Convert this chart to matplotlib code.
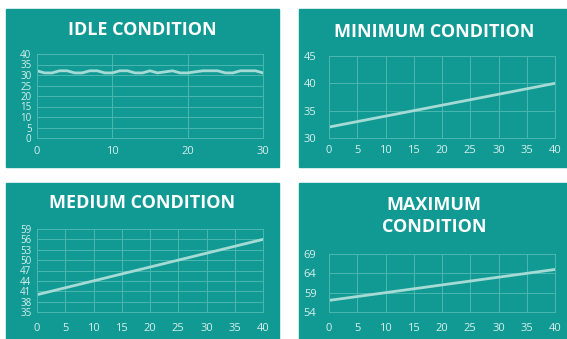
import matplotlib
matplotlib.use("Agg")
import matplotlib.pyplot as plt
from matplotlib.patches import Rectangle

# data
idle_x = list(range(0, 31))
idle_y = [32, 31, 31, 32, 32, 31, 31, 32, 32, 31, 31, 32, 32, 31, 31, 32,
          31, 31.5, 32, 31, 31, 31.5, 32, 32, 32, 31, 31, 32, 32, 32, 31]
min_x = [0, 40]
min_y = [32, 40]
med_x = [0, 40]
med_y = [40, 56]
max_x = [0, 40]
max_y = [57, 65]

idle_yticks = [0, 5, 10, 15, 20, 25, 30, 35, 40]
idle_xticks = [0, 10, 20, 30]
min_yticks = [30, 35, 40, 45]
med_yticks = [35, 38, 41, 44, 47, 50, 53, 56, 59]
max_yticks = [54, 59, 64, 69]
x40_ticks = [0, 5, 10, 15, 20, 25, 30, 35, 40]

TEAL = "#119a94"
GRID = "#4cb6b0"
LINE = "#a6dad4"
TXT = "#d6efec"

W, H = 567, 339
fig = plt.figure(figsize=(W / 100, H / 100), dpi=100)
fig.patch.set_facecolor("white")


def fx(px):
    return px / W


def fy(py):
    return 1 - py / H


def panel(x0, y0, x1, y1):
    fig.patches.append(Rectangle((fx(x0), fy(y1)), fx(x1) - fx(x0), (y1 - y0) / H,
                                 transform=fig.transFigure, color=TEAL, zorder=-10))


def axes(x0, y0, x1, y1):
    ax = fig.add_axes([fx(x0), fy(y1), fx(x1) - fx(x0), (y1 - y0) / H])
    ax.set_zorder(1)
    ax.set_facecolor(TEAL)
    for s in ax.spines.values():
        s.set_color(GRID)
        s.set_linewidth(0.7)
    ax.tick_params(length=0, colors=TXT, labelsize=8, pad=5)
    ax.grid(True, color=GRID, linewidth=0.7)
    ax.set_axisbelow(True)
    return ax


title_kw = dict(color="white", fontsize=13, fontweight="bold", family="Open Sans",
                ha="center", va="center")
tick_font = "Open Sans"

panel(6, 9, 279, 167)
panel(299, 9, 567, 167)
panel(6, 183, 279, 339)
panel(299, 183, 567, 339)

fig.text(fx(142.5), fy(30), "IDLE CONDITION", **title_kw)
fig.text(fx(434), fy(32), "MINIMUM CONDITION", **title_kw)
fig.text(fx(142.5), fy(203), "MEDIUM CONDITION", **title_kw)
fig.text(fx(434), fy(216), "MAXIMUM\nCONDITION", linespacing=1.25, **title_kw)

# idle
ax = axes(37, 54, 263, 138)
ax.plot(idle_x, idle_y, color=LINE, lw=2)
ax.set_xlim(0, 30)
ax.set_ylim(0, 40)
ax.set_xticks(idle_xticks)
ax.set_yticks(idle_yticks)
ax.tick_params(axis="x", pad=6)
ax.tick_params(axis="y", pad=4, labelsize=7)

# minimum
ax = axes(329, 56, 555, 138)
ax.plot(min_x, min_y, color=LINE, lw=2)
ax.set_xlim(0, 40)
ax.set_ylim(30, 45)
ax.set_xticks(x40_ticks)
ax.set_yticks(min_yticks)
ax.tick_params(axis="y", pad=9)

# medium
ax = axes(37, 229, 263, 312)
ax.plot(med_x, med_y, color=LINE, lw=2)
ax.set_xlim(0, 40)
ax.set_ylim(35, 59)
ax.set_xticks(x40_ticks)
ax.set_yticks(med_yticks)
ax.tick_params(axis="x", pad=8)
ax.tick_params(axis="y", pad=4, labelsize=7)

# maximum
ax = axes(329, 254, 555, 312)
ax.plot(max_x, max_y, color=LINE, lw=2)
ax.set_xlim(0, 40)
ax.set_ylim(54, 69)
ax.set_xticks(x40_ticks)
ax.set_yticks(max_yticks)
ax.tick_params(axis="y", pad=9)
ax.tick_params(axis="x", pad=8)

for a in fig.axes:
    for lab in a.get_xticklabels() + a.get_yticklabels():
        lab.set_family(tick_font)

fig.savefig("out.png", dpi=100, facecolor="white")
